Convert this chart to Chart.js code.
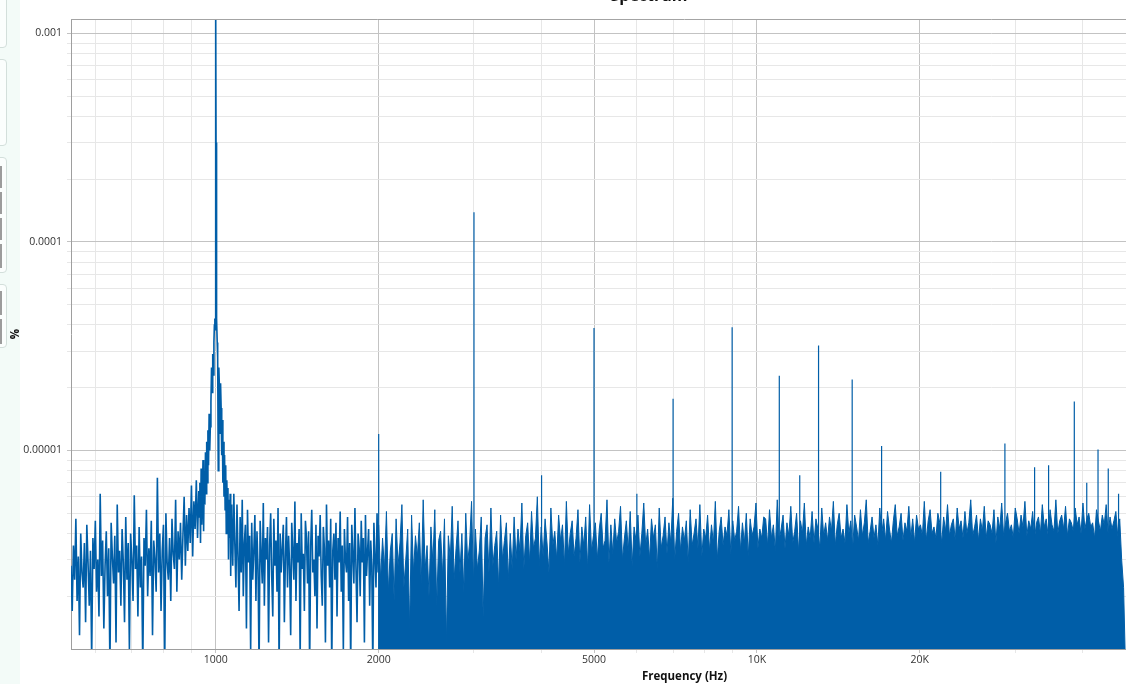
<!DOCTYPE html>
<html>
<head>
<meta charset="utf-8">
<script src="https://cdn.jsdelivr.net/npm/chart.js@4.4.1/dist/chart.umd.min.js"></script>
<style>
html,body{margin:0;padding:0;background:#fff;overflow:hidden;width:1126px;height:684px;position:relative}
#strip{position:absolute;left:0;top:0;width:20px;height:684px;background:#f3fbf8}
.box{position:absolute;left:-8px;width:13px;border:1px solid #d3dfdb;border-radius:4px;background:#fbfefd}
.bar{position:absolute;left:0;width:2px;background:#9c9c9c}
#wrap{position:absolute;left:0;top:-20px;width:1366px;height:704px}
</style>
</head>
<body>
<div id="strip">
  <div class="box" style="top:-6px;height:52px"></div>
  <div class="box" style="top:59px;height:85px"></div>
  <div class="box" style="top:157px;height:114px"></div>
  <div class="box" style="top:284px;height:62px"></div>
  <div class="bar" style="top:166px;height:22px"></div>
  <div class="bar" style="top:192px;height:22px"></div>
  <div class="bar" style="top:218px;height:22px"></div>
  <div class="bar" style="top:244px;height:24px"></div>
  <div class="bar" style="top:291px;height:24px"></div>
  <div class="bar" style="top:319px;height:25px"></div>
</div>
<div id="wrap"><canvas id="c"></canvas></div>
<script>
// ---------- data (amplitudes in units of 1e-7 %) ----------
const UNIT = 1e-7;

// noise, 540 Hz -> 930 Hz
const noiseLeft = [
28,17,35,24,47,19,31,13,40,26,22,36,15,44,29,18,33,10,38,27,
46,21,30,16,62,25,37,14,28,41,20,34,9,45,31,23,39,12,55,26,
33,18,42,29,15,48,24,36,11,40,30,19,61,27,35,16,43,22,31,9,
38,28,52,20,34,25,46,13,37,30,21,74,26,40,17,33,44,9,50,29,
24,38,19,47,32,27,58,21,41,30,45,24,39,60,28,49,33,53,36,68,
31,57,42,72,38,64];

// main 1 kHz peak and its skirts
const peakFreq = [932,934.5,937,939.5,942,944.5,947,949.5,952,954.5,957,959.5,962,964.5,967,969.5,972,974.5,977,979.5,982,984.5,987,989.5,992,
  994,996,997.5,999,1000,1001,1002.5,1004,1006,1008,
  1010.5,1013,1015.5,1018,1020.5,1023,1025.5,1028,1030.5,1033,1035.5,1038,1040.5,1043,1045.5,1048,1050.5,1053,1055.5,1058,1060.5,1063,1065.5,1068];
const peakVal = [48,70,36,82,44,60,90,41,75,55,98,62,110,70,125,85,150,100,130,170,250,190,290,230,330,
  400,430,380,3000,15000,3000,400,430,330,280,
  80,250,200,120,210,160,95,140,70,110,60,95,52,85,40,72,48,66,30,58,38,62,25,55];

// noise, 1070 Hz -> 1995 Hz
const noiseMid = [
50,28,62,35,22,55,31,17,48,26,58,20,36,44,14,52,29,39,11,45,
24,33,49,19,41,27,9,46,32,23,56,18,38,30,43,12,35,50,25,16,
47,28,37,21,53,9,40,26,34,44,15,31,48,22,39,28,13,45,33,24,
57,19,36,29,42,10,50,27,32,17,46,38,23,41,9,35,52,26,30,20,
44,14,39,31,49,25,18,43,34,12,55,28,37,22,47,9,33,40,24,45,
16,38,29,51,21,35,11,42,30,26,48,19,36,9,44,32,23,53,27,15,
40,34,20,46,29,38,12,49,25,33,42,18,37,28,9,45,31,22,50,26];

// noise floor, 2000 Hz -> 48000 Hz
const noiseRight = [
44,24,38,27,51,21,33,40,19,47,28,36,55,22,30,42,14,49,26,39,
31,45,23,58,27,35,20,43,29,52,18,37,41,25,47,12,39,30,54,24,
34,46,26,40,21,50,29,36,57,23,42,27,33,48,16,38,44,26,53,28,
35,41,22,49,30,37,45,24,40,27,
48,30,42,33,56,27,39,45,29,51,34,38,60,28,43,31,47,36,26,53,
35,41,30,49,37,44,28,57,32,40,46,31,38,52,29,43,35,48,27,55,
33,39,45,30,42,50,34,37,58,29,44,32,47,36,41,54,30,38,46,33,
51,28,43,37,49,31,40,56,35,42,30,47,38,44,27,53,34,39,48,32,
45,36,59,30,41,50,33,43,37,46,29,52,35,40,47,34,55,31,42,38,
49,33,44,36,57,30,41,48,35,43,39,52,32,46,37,41,54,33,45,36,
50,31,47,39,43,56,34,42,38,48,
47,35,52,38,44,33,58,37,42,49,34,45,39,54,36,41,50,33,46,40,
56,35,43,38,51,36,47,42,34,53,39,45,37,48,41,57,35,44,50,38,
42,36,55,40,46,34,49,43,37,52,39,45,58,36,41,48,38,44,35,53,
40,47,37,51,42,36,46,55,39,43,50,37,45,41,54,38,47,36,49,42,
44,39,57,37,46,52,40,43,38,50,45,36,48,41,55,39,44,47,37,53,
42,46,38,51,40,45,58,39,43,49,37,47,41,54,38,46,44,40,52,36,
48,42,56,39,45,50,41,44,38,53,47,40,49,43,57,39,46,42,51,38,
45,48,40,55,43,47,39,52,44,41,58,40,46,49,42,54,39,47,45,41,
53,44,48,40,56,42,47,50,43,45,38,52,46,41,49,44,55,40,48,42,
46,51,39,47,30,22,9];

// harmonic / spurious spikes
const spikeFreq = [2000,3000,4000,5000,6000,7000,9000,11000,12000,13000,15000,17000,21860,28730,32600,34600,38600,40700,42700,44600,46600];
const spikeVal  = [120,1390,76,387,62,177,390,228,76,319,219,105,79,108,83,85,172,70,101,82,62];

// axes
const xMajorTicks = [1000,2000,5000,10000,20000,50000];
const xMajorLabels = ['1000','2000','5000','10K','20K','50K'];
const xMinorTicks = [600,700,800,900,3000,4000,6000,7000,8000,9000,30000,40000,60000,70000,80000,90000];
const yMajorTicks = [1e-5,1e-4,1e-3];
const yMajorLabels = ['0.00001','0.0001','0.001'];
const yMinorMult = [2,3,4,5,6,7,8,9];

const F_MIN = 540, F_MAX = 100000;
const Y_MIN = 1.1166e-6, Y_MAX = 1.1735e-3;

// ---------- build library structures ----------
function bins(f0, f1, n){ const o=[]; for(let i=0;i<n;i++) o.push(f0*Math.pow(f1/f0, i/(n-1))); return o; }
function pts(freqs, vals){ return vals.map((v,i)=>({x:freqs[i], y:v*UNIT})); }

const lineData = [].concat(
  pts(bins(540,930,noiseLeft.length), noiseLeft),
  pts(peakFreq, peakVal),
  pts(bins(1070,1995,noiseMid.length), noiseMid)
);
const fillData = pts(bins(2000,48000,noiseRight.length), noiseRight);
const spikeData = [];
spikeFreq.forEach((f,i)=>{ spikeData.push({x:f,y:Y_MIN},{x:f,y:spikeVal[i]*UNIT},{x:f,y:null}); });

const yTicks = [];
[1e-6,1e-5,1e-4].forEach(d=>{ yMinorMult.forEach(m=>yTicks.push(m*d)); });
yMajorTicks.forEach(v=>yTicks.push(v));
yTicks.sort((a,b)=>a-b);
const xTicks = xMajorTicks.concat(xMinorTicks).sort((a,b)=>a-b);

const near = (a,b)=>Math.abs(a-b) <= Math.abs(b)*1e-6;
const xLabel = v => { const i = xMajorTicks.findIndex(t=>near(v,t)); return i>=0 ? xMajorLabels[i] : ''; };
const yLabel = v => { const i = yMajorTicks.findIndex(t=>near(v,t)); return i>=0 ? yMajorLabels[i] : ''; };

const FONT = "'Segoe UI','Open Sans',sans-serif";
const BLUE = '#005EA8';
const MAJOR = '#c3c3c3', MINOR = '#e7e7e7';

const topBorder = {
  id:'topBorder',
  afterDraw(c){
    const {ctx, chartArea:a} = c;
    ctx.save(); ctx.strokeStyle='#a4a4a4'; ctx.lineWidth=1;
    ctx.beginPath(); ctx.moveTo(a.left, Math.round(a.top)+0.5); ctx.lineTo(a.right, Math.round(a.top)+0.5); ctx.stroke();
    ctx.restore();
  }
};

new Chart(document.getElementById('c'), {
  type:'line',
  data:{ datasets:[
    {label:'noise floor', data:fillData, borderColor:BLUE, backgroundColor:BLUE, borderWidth:1, fill:'start', pointRadius:0, tension:0},
    {label:'spectrum', data:lineData, borderColor:BLUE, borderWidth:1.6, fill:false, pointRadius:0, tension:0},
    {label:'spikes', data:spikeData, borderColor:BLUE, borderWidth:1.2, fill:false, pointRadius:0, spanGaps:false}
  ]},
  options:{
    responsive:true, maintainAspectRatio:false, animation:false,
    layout:{padding:{left:0,right:68,top:0,bottom:0}},
    plugins:{
      legend:{display:false},
      tooltip:{enabled:false},
      title:{display:true, text:'Spectrum', color:'#111', font:{family:FONT, size:16, weight:'bold'}, padding:{top:7.2,bottom:12.6}}
    },
    scales:{
      x:{
        type:'logarithmic', min:F_MIN, max:F_MAX,
        afterBuildTicks:s=>{ s.ticks = xTicks.map(v=>({value:v})); },
        afterFit:s=>{ s.height = 35; },
        ticks:{autoSkip:false, maxRotation:0, padding:1, color:'#333', font:{family:FONT,size:10.5}, callback:v=>xLabel(v)},
        grid:{color:c=> (c.tick && xMajorTicks.some(t=>near(c.tick.value,t))) ? MAJOR : MINOR, tickLength:4, drawTicks:true},
        border:{color:'#9e9e9e'},
        title:{display:true, text:'Frequency (Hz)', color:'#111', font:{family:FONT,size:11.5,weight:'bold'}, padding:{top:3.8,bottom:0.4}}
      },
      y:{
        type:'logarithmic', min:Y_MIN, max:Y_MAX,
        afterBuildTicks:s=>{ s.ticks = yTicks.map(v=>({value:v})); },
        afterFit:s=>{ s.width = 71; },
        ticks:{autoSkip:false, padding:5, color:'#333', font:{family:FONT,size:10.5}, callback:v=>yLabel(v)},
        grid:{color:c=> (c.tick && yMajorTicks.some(t=>near(c.tick.value,t))) ? MAJOR : MINOR, tickLength:4, drawTicks:true},
        border:{color:'#9e9e9e'},
        title:{display:true, text:'%', color:'#111', font:{family:FONT,size:11.5,weight:'bold'}, padding:{top:8.4,bottom:0}}
      }
    }
  },
  plugins:[topBorder]
});
</script>
</body>
</html>
